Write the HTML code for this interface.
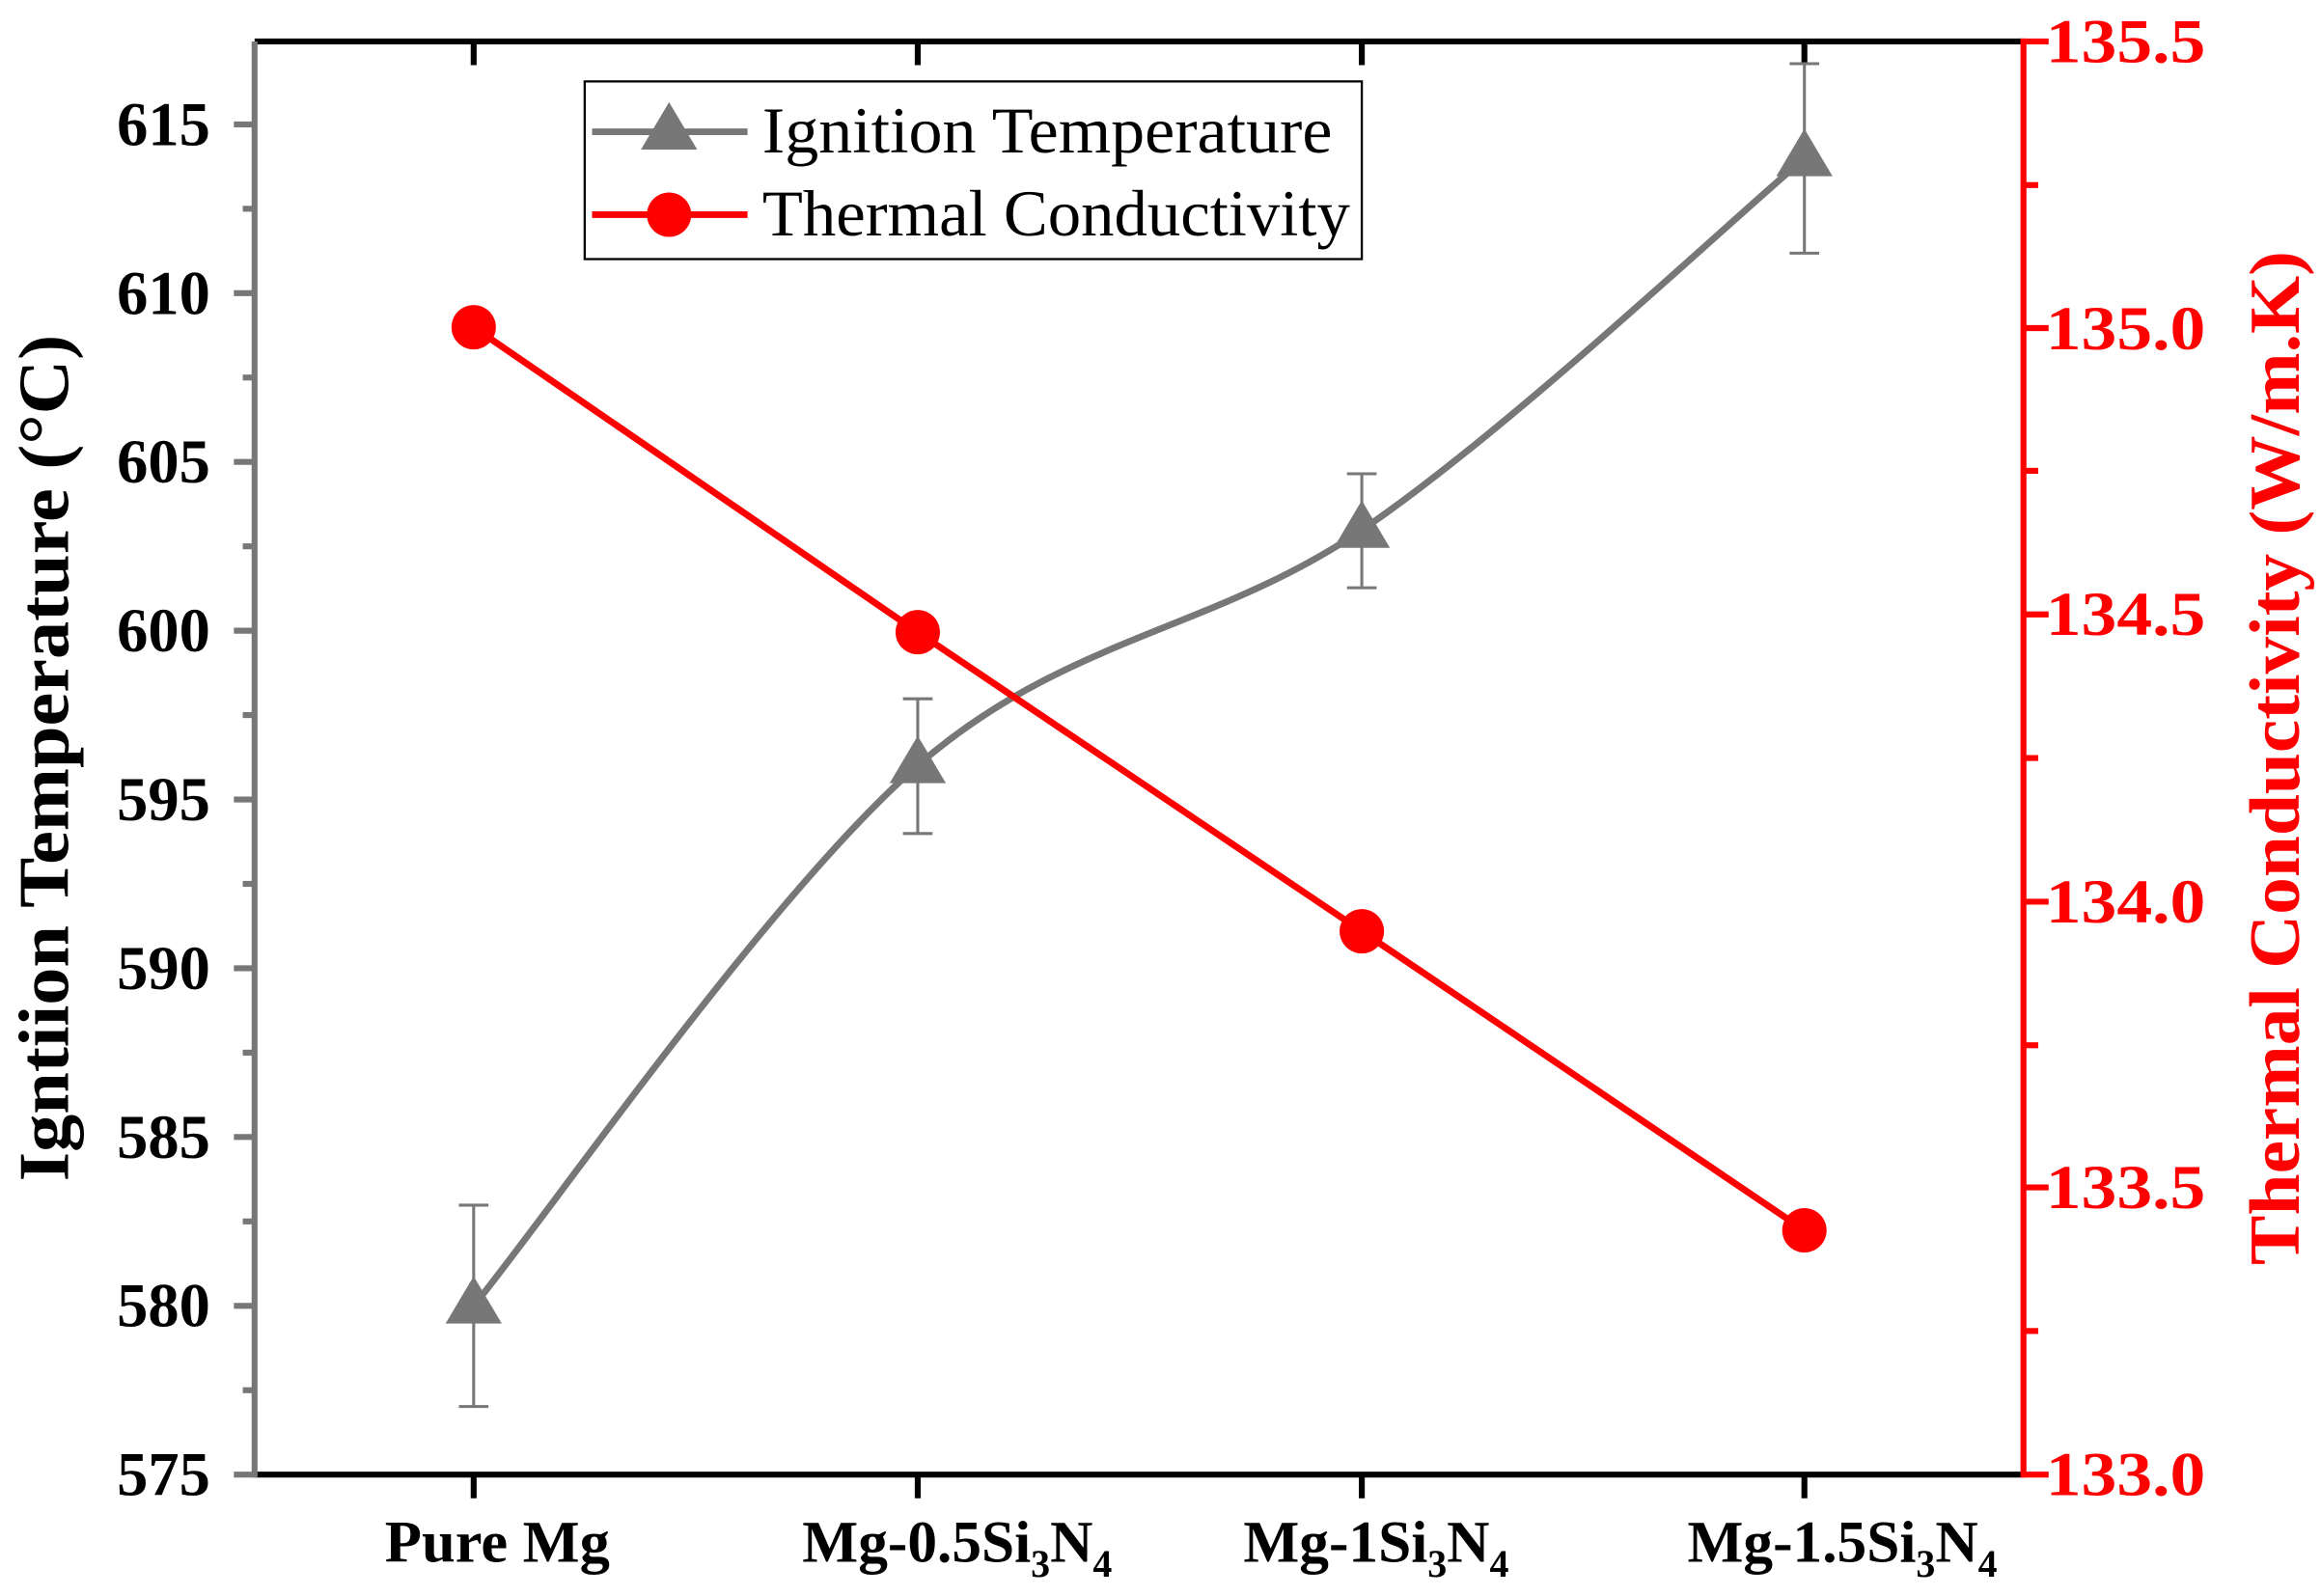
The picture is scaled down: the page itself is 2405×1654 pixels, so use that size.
<!DOCTYPE html>
<html><head><meta charset="utf-8"><style>html,body{margin:0;padding:0;background:#fff}svg{display:block}</style></head>
<body>
<svg width="2405" height="1654" viewBox="0 0 1568 1078" preserveAspectRatio="none" xmlns="http://www.w3.org/2000/svg" font-family="Liberation Serif, serif">
<rect width="1568" height="1078" fill="#fff"/>
<line x1="172" y1="28" x2="1367" y2="28" stroke="#000" stroke-width="4"/>
<g stroke="#000" stroke-width="4">
<line x1="320" y1="28" x2="320" y2="44"/><line x1="620" y1="28" x2="620" y2="44"/><line x1="920" y1="28" x2="920" y2="44"/><line x1="1219" y1="28" x2="1219" y2="44"/>
<line x1="172" y1="996" x2="1367" y2="996"/>
<line x1="320" y1="996" x2="320" y2="1012"/><line x1="620" y1="996" x2="620" y2="1012"/><line x1="920" y1="996" x2="920" y2="1012"/><line x1="1219" y1="996" x2="1219" y2="1012"/>
</g>
<g stroke="#777" stroke-width="4">
<line x1="172" y1="28" x2="172" y2="998"/>
<line x1="158" y1="996" x2="172" y2="996"/><line x1="158" y1="882" x2="172" y2="882"/><line x1="158" y1="768" x2="172" y2="768"/><line x1="158" y1="654" x2="172" y2="654"/><line x1="158" y1="540" x2="172" y2="540"/><line x1="158" y1="426" x2="172" y2="426"/><line x1="158" y1="312" x2="172" y2="312"/><line x1="158" y1="198" x2="172" y2="198"/><line x1="158" y1="84" x2="172" y2="84"/>
<line x1="164" y1="939" x2="172" y2="939"/><line x1="164" y1="825" x2="172" y2="825"/><line x1="164" y1="711" x2="172" y2="711"/><line x1="164" y1="597" x2="172" y2="597"/><line x1="164" y1="483" x2="172" y2="483"/><line x1="164" y1="369" x2="172" y2="369"/><line x1="164" y1="255" x2="172" y2="255"/><line x1="164" y1="141" x2="172" y2="141"/>
</g>
<g font-weight="bold" font-size="42" text-anchor="end" fill="#000">
<text x="142" y="1010">575</text><text x="142" y="896">580</text><text x="142" y="782">585</text><text x="142" y="668">590</text><text x="142" y="554">595</text><text x="142" y="440">600</text><text x="142" y="326">605</text><text x="142" y="212">610</text><text x="142" y="98">615</text>
</g>
<text transform="translate(46,512) rotate(-90)" text-anchor="middle" font-weight="bold" font-size="48" textLength="572" lengthAdjust="spacingAndGlyphs">Igntiion Temperature (°C)</text>
<g stroke="#f00" stroke-width="4">
<line x1="1367" y1="26" x2="1367" y2="998"/>
<line x1="1367" y1="28" x2="1384" y2="28"/><line x1="1367" y1="221.6" x2="1384" y2="221.6"/><line x1="1367" y1="415" x2="1384" y2="415"/><line x1="1367" y1="609" x2="1384" y2="609"/><line x1="1367" y1="802" x2="1384" y2="802"/><line x1="1367" y1="996" x2="1384" y2="996"/>
<line x1="1367" y1="125" x2="1377" y2="125"/><line x1="1367" y1="318" x2="1377" y2="318"/><line x1="1367" y1="512" x2="1377" y2="512"/><line x1="1367" y1="706" x2="1377" y2="706"/><line x1="1367" y1="899" x2="1377" y2="899"/>
</g>
<g font-weight="bold" font-size="42" fill="#f00">
<text x="1382" y="42" textLength="108" lengthAdjust="spacingAndGlyphs">135.5</text>
<text x="1382" y="236" textLength="108" lengthAdjust="spacingAndGlyphs">135.0</text>
<text x="1382" y="429" textLength="108" lengthAdjust="spacingAndGlyphs">134.5</text>
<text x="1382" y="623" textLength="108" lengthAdjust="spacingAndGlyphs">134.0</text>
<text x="1382" y="816" textLength="108" lengthAdjust="spacingAndGlyphs">133.5</text>
<text x="1382" y="1010" textLength="108" lengthAdjust="spacingAndGlyphs">133.0</text>
</g>
<text transform="translate(1553,512) rotate(-90)" text-anchor="middle" font-weight="bold" font-size="48" fill="#f00" textLength="685" lengthAdjust="spacingAndGlyphs">Thermal Conductivity (W/m.K)</text>
<g font-weight="bold" font-size="40" fill="#000">
<text x="260" y="1055" textLength="152" lengthAdjust="spacingAndGlyphs">Pure Mg</text>
<text x="542" y="1055">Mg-0.5Si<tspan font-size="26" dy="10">3</tspan><tspan dy="-10">N</tspan><tspan font-size="26" dy="10">4</tspan></text>
<text x="840" y="1055">Mg-1Si<tspan font-size="26" dy="10">3</tspan><tspan dy="-10">N</tspan><tspan font-size="26" dy="10">4</tspan></text>
<text x="1140" y="1055">Mg-1.5Si<tspan font-size="26" dy="10">3</tspan><tspan dy="-10">N</tspan><tspan font-size="26" dy="10">4</tspan></text>
</g>
<g stroke="#777" stroke-width="2">
<line x1="320" y1="814" x2="320" y2="950"/><line x1="310" y1="814" x2="330" y2="814"/><line x1="310" y1="950" x2="330" y2="950"/>
<line x1="620" y1="472" x2="620" y2="563"/><line x1="610" y1="472" x2="630" y2="472"/><line x1="610" y1="563" x2="630" y2="563"/>
<line x1="920" y1="320" x2="920" y2="397"/><line x1="910" y1="320" x2="930" y2="320"/><line x1="910" y1="397" x2="930" y2="397"/>
<line x1="1219" y1="43" x2="1219" y2="171"/><line x1="1209" y1="43" x2="1229" y2="43"/><line x1="1209" y1="171" x2="1229" y2="171"/>
</g>
<path d="M320,882 C370,821 520,604 620,517 C720,430 820,426 920,358 C1020,290 1169,149 1219,107" fill="none" stroke="#777" stroke-width="4.5"/>
<g fill="#777">
<polygon points="320,862 339,894 301,894"/><polygon points="620,497 639,529 601,529"/><polygon points="920,338 939,370 901,370"/><polygon points="1219,87 1238,119 1200,119"/>
</g>
<polyline points="320,221 620,427 920,629 1219,831" fill="none" stroke="#f00" stroke-width="4.5"/>
<g fill="#f00"><circle cx="320" cy="221" r="15"/><circle cx="620" cy="427" r="15"/><circle cx="920" cy="629" r="15"/><circle cx="1219" cy="831" r="15"/></g>
<rect x="395" y="55" width="525" height="120" fill="#fff" stroke="#000" stroke-width="1.5"/>
<line x1="400" y1="89" x2="505" y2="89" stroke="#777" stroke-width="4.5"/>
<polygon points="452,69 471,101 433,101" fill="#777"/>
<line x1="400" y1="145" x2="505" y2="145" stroke="#f00" stroke-width="4.5"/>
<circle cx="452" cy="145" r="15" fill="#f00"/>
<text x="515" y="103" font-size="44" textLength="385" lengthAdjust="spacingAndGlyphs">Ignition Temperature</text>
<text x="515" y="159" font-size="44" textLength="397" lengthAdjust="spacingAndGlyphs">Thermal Conductivity</text>
</svg>
</body></html>
